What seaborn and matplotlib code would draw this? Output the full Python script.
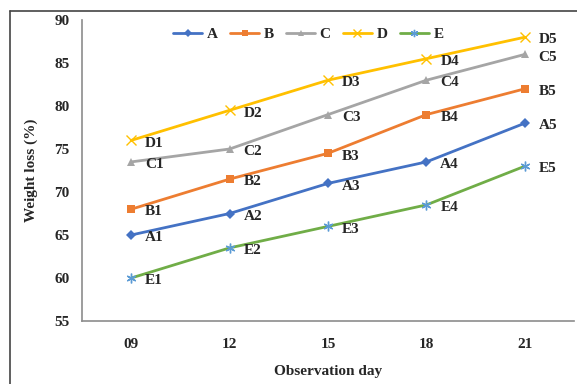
import pandas as pd
import matplotlib
matplotlib.use('Agg')
import matplotlib.pyplot as plt
import seaborn as sns
from matplotlib.lines import Line2D

days = ['09', '12', '15', '18', '21']
A = [65, 67.5, 71, 73.5, 78]
B = [68, 71.5, 74.5, 79, 82]
C = [73.5, 75, 79, 83, 86]
D = [76, 79.5, 83, 85.5, 88]
E = [60, 63.5, 66, 68.5, 73]
series = {'A': A, 'B': B, 'C': C, 'D': D, 'E': E}

rows = []
for name, vals in series.items():
    for i, (d, v) in enumerate(zip(days, vals)):
        rows.append({'day': d, 'pos': i, 'loss': v, 'group': name, 'label': f'{name}{i + 1}'})
df = pd.DataFrame(rows)

palette = {'A': '#4472C4', 'B': '#ED7D31', 'C': '#A5A5A5', 'D': '#FFC000', 'E': '#70AD47'}
markers = {'A': 'D', 'B': 's', 'C': '^', 'D': 'x', 'E': (6, 2, 0)}
sizes = {'A': 5, 'B': 6, 'C': 6, 'D': 7, 'E': 7}

sns.set_style('white')
plt.rcParams['font.family'] = ['Liberation Serif']
plt.rcParams['font.weight'] = 'bold'

fig = plt.figure(figsize=(5.77, 3.84), dpi=100)
ax = fig.add_axes([82 / 577, 1 - 321 / 384, (574 - 82) / 577, (321 - 20) / 384])

for name in series:
    sub = df[df['group'] == name]
    sns.lineplot(data=sub, x='pos', y='loss', color=palette[name], marker=markers[name],
                 markersize=sizes[name], linewidth=2, label=name, ax=ax,
                 markeredgewidth=1.0 if name in 'DE' else 0)
    line = ax.lines[-1]
    if name == 'E':
        line.set_markeredgecolor('#5B9BD5')
    else:
        line.set_markeredgecolor(palette[name])
    for _, r in sub.iterrows():
        ax.annotate(r['label'], (r['pos'], r['loss']), xytext=(10, -2),
                    textcoords='offset points', ha='left', va='center',
                    fontsize=11, fontweight='bold')

ax.set_xlim(-0.5, 4.5)
ax.set_ylim(55, 90)
ax.set_yticks(range(55, 91, 5))
ax.set_xticks(range(len(days)))
ax.set_xticklabels(days)
ax.tick_params(axis='both', labelsize=11, length=0)
ax.tick_params(axis='x', pad=12)
ax.tick_params(axis='y', pad=9)
ax.set_xlabel('Observation day', fontsize=11, fontweight='bold', labelpad=10)
ax.set_ylabel('Weight loss (%)', fontsize=11, fontweight='bold', labelpad=12)

for s in ['top', 'right']:
    ax.spines[s].set_visible(False)
for s in ['left', 'bottom']:
    ax.spines[s].set_color('#8c8c8c')
    ax.spines[s].set_linewidth(1.2)

ax.legend(loc='center', bbox_to_anchor=(0.46, (321 - 34) / 301), ncol=5, frameon=False,
          fontsize=11, handlelength=1.9, columnspacing=0.8, handletextpad=0.3,
          markerscale=0.75)

# outer frame: only left and top edges visible in the reference
x0, y0 = 10 / 577, 1 - 11 / 384
fig.add_artist(Line2D([x0, x0], [0, y0], transform=fig.transFigure, color='#444444', lw=1.2))
fig.add_artist(Line2D([x0, 1], [y0, y0], transform=fig.transFigure, color='#444444', lw=1.2))

plt.savefig('out.png', dpi=100)
